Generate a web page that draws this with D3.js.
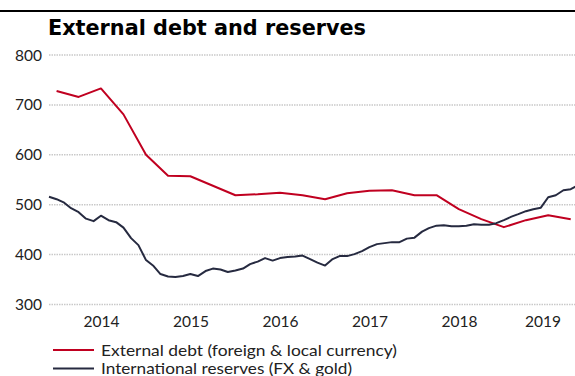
<!DOCTYPE html>
<html>
<head>
<meta charset="utf-8">
<script src="https://cdn.jsdelivr.net/npm/d3@7"></script>
<style>
  html, body { margin: 0; padding: 0; background: #fff; }
  svg { display: block; }
</style>
</head>
<body>
<svg id="chart" width="575" height="376"></svg>
<script>
// External debt: quarter-end values (USD bn), Q4 2013 .. Q3 2019
const debtStart = new Date(2013, 11, 31);
const debtValues = [728, 716, 733, 681, 600, 558, 557, 538, 519, 521, 524, 519,
                    511, 523, 528, 529, 519, 519, 491, 471, 455, 469, 479, 471];

// International reserves: month-end values (USD bn), Nov 2013 .. Oct 2019
const reservesStart = new Date(2013, 10, 30);
const reservesValues = [516, 511, 504, 493, 485, 472, 467, 478, 469, 465, 454, 433,
                        419, 389, 377, 361, 356, 355, 357, 361, 357, 367, 372, 370,
                        365, 368, 372, 381, 386, 393, 388, 393, 395, 396, 398, 391,
                        384, 378, 391, 397, 397, 401, 407, 415, 421, 423, 425, 425,
                        432, 434, 446, 453, 458, 459, 457, 457, 458, 461, 460, 460,
                        463, 469, 476, 481, 487, 491, 494, 515, 519, 529, 531, 539];

const yTicks = [300, 400, 500, 600, 700, 800];
const yearLabels = ["2014", "2015", "2016", "2017", "2018", "2019"];
const seriesNames = ["External debt (foreign & local currency)", "International reserves (FX & gold)"];
const seriesColors = ["#c00020", "#262a40"];
const legendWidths = [296, 251];

function monthEnd(start, k) {
  return new Date(start.getFullYear(), start.getMonth() + k + 1, 0);
}
const debt = debtValues.map((v, i) => ({ date: monthEnd(debtStart, i * 3), value: v }));
const reserves = reservesValues.map((v, i) => ({ date: monthEnd(reservesStart, i), value: v }));

const svg = d3.select("#chart");
const W = 575;

const x = d3.scaleTime()
  .domain([new Date(2013, 10, 30), new Date(2019, 10, 15)])
  .range([49, 582]);
const y = d3.scaleLinear().domain([300, 800]).range([304.5, 55]);

// top rule
svg.append("rect").attr("x", 0).attr("y", 10).attr("width", W).attr("height", 2).attr("fill", "#000");

// title
svg.append("text")
  .attr("x", 48).attr("y", 35)
  .attr("font-family", "'DejaVu Sans', sans-serif").attr("font-weight", 700)
  .attr("font-size", 20.5).attr("fill", "#000")
  .attr("textLength", 318).attr("lengthAdjust", "spacingAndGlyphs")
  .text("External debt and reserves");

// gridlines + y labels
const yAxis = svg.append("g");
yAxis.selectAll("line").data(yTicks).join("line")
  .attr("x1", 49).attr("x2", W)
  .attr("y1", d => y(d)).attr("y2", d => y(d))
  .attr("stroke", "#c9c9c9").attr("stroke-width", 1.5)
  .attr("stroke-dasharray", "1.5 1");
yAxis.selectAll("text").data(yTicks).join("text")
  .attr("x", 42).attr("y", d => y(d)).attr("dy", "0.36em")
  .attr("text-anchor", "end")
  .attr("font-family", "Lato, sans-serif").attr("font-size", 15.5).attr("fill", "#222")
  .text(d => d);

// year labels, centred in the visible part of each year
const xEnd = x.domain()[1];
svg.append("g").selectAll("text").data(yearLabels).join("text")
  .attr("x", d => {
    const a = new Date(+d, 0, 1);
    const b = new Date(Math.min(new Date(+d + 1, 0, 1), xEnd));
    return (x(a) + x(b)) / 2;
  })
  .attr("y", 327)
  .attr("text-anchor", "middle")
  .attr("font-family", "Lato, sans-serif").attr("font-size", 15.5).attr("fill", "#222")
  .text(d => d);

// lines
const line = d3.line().x(d => x(d.date)).y(d => y(d.value));
[debt, reserves].forEach((data, i) => {
  svg.append("path").datum(data)
    .attr("d", line)
    .attr("fill", "none")
    .attr("stroke", seriesColors[i])
    .attr("stroke-width", 2)
    .attr("stroke-linejoin", "round");
});

// legend
const legend = svg.append("g");
seriesNames.forEach((name, i) => {
  const ly = 350 + i * 18.5;
  legend.append("line")
    .attr("x1", 53).attr("x2", 94).attr("y1", ly).attr("y2", ly)
    .attr("stroke", seriesColors[i]).attr("stroke-width", 2);
  legend.append("text")
    .attr("x", 101).attr("y", ly).attr("dy", "0.36em")
    .attr("font-family", "Lato, sans-serif").attr("font-size", 16).attr("fill", "#222")
    .attr("textLength", legendWidths[i]).attr("lengthAdjust", "spacingAndGlyphs")
    .text(name);
});
</script>
</body>
</html>
